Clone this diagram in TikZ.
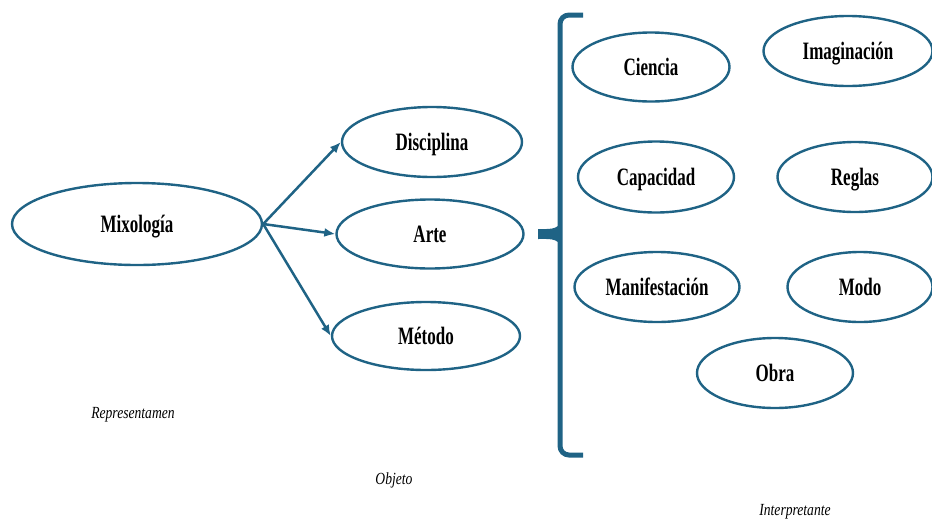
\documentclass[tikz,border=0pt]{standalone}
\usepackage{fontspec}
\setmainfont{Liberation Serif}
\newfontfamily\boxfont[FakeStretch=0.68]{Liberation Serif}
\newfontfamily\capfont[FakeStretch=0.8]{Liberation Serif}
\usetikzlibrary{shapes.geometric,arrows.meta}
\definecolor{teal}{RGB}{31,99,133}
\tikzset{
  oval/.style={ellipse, draw=teal, line width=2.4pt, inner sep=0pt,
    text height=18pt, text depth=2pt,
    font=\boxfont\fontsize{25}{28}\selectfont\bfseries},
  caption/.style={font=\capfont\fontsize{17}{20}\selectfont\itshape},
  link/.style={draw=teal, line width=2.5pt, -{Latex[length=11pt,width=9pt]}},
  brace/.style={draw=teal, line width=5pt, rounded corners=9pt}
}
\begin{document}
\begin{tikzpicture}[x=1pt,y=-1pt]
\useasboundingbox (0,0) rectangle (932,523);
% left ellipse
\node[oval, minimum width=250pt, minimum height=82pt] (mix) at (137,224) {Mixología};
% objects
\node[oval, minimum width=180pt, minimum height=70pt] (dis) at (432,142) {Disciplina};
\node[oval, minimum width=187pt, minimum height=69pt] (arte) at (430,234) {Arte};
\node[oval, minimum width=188pt, minimum height=68pt] (met) at (426,336) {Método};
% interpretants
\node[oval, minimum width=157pt, minimum height=69pt] (cie) at (651,67) {Ciencia};
\node[oval, minimum width=169pt, minimum height=70pt] (ima) at (848,51) {Imaginación};
\node[oval, minimum width=156pt, minimum height=71pt] (cap) at (656,177) {Capacidad};
\node[oval, minimum width=155pt, minimum height=70pt] (reg) at (855,177) {Reglas};
\node[oval, minimum width=165pt, minimum height=70pt] (man) at (657,287) {Manifestación};
\node[oval, minimum width=145pt, minimum height=70pt] (mod) at (860,287) {Modo};
\node[oval, minimum width=156pt, minimum height=70pt] (obr) at (775,373) {Obra};
% arrows
\draw[link] (mix.east) -- (dis.west);
\draw[link] (mix.east) -- (arte.west);
\draw[link] (mix.east) -- (met.west);
% brace
\coordinate (bt) at (583,15);
\coordinate (btc) at (560,15);
\coordinate (bbc) at (560,455);
\coordinate (bb) at (583,455);
\draw[brace] (bt) -- (btc) -- (bbc) -- (bb);
\fill[teal] (561,222) .. controls (557,230) and (549,229) .. (538,229)
  -- (538,239) .. controls (549,239) and (557,238) .. (561,246) -- cycle;
% captions
\node[caption] (rep) at (133,415) {Representamen};
\node[caption] (obj) at (394,480) {Objeto};
\node[caption] (int) at (795,512) {Interpretante};
\end{tikzpicture}
\end{document}
